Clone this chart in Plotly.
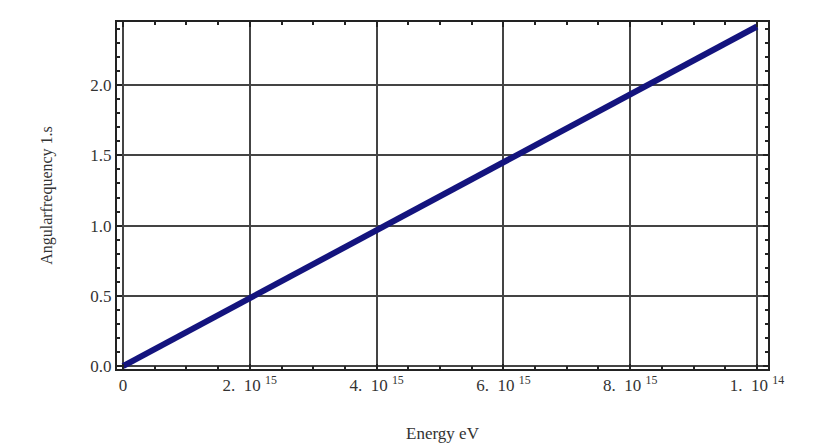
import plotly.graph_objects as go

energy_ev = [0, 2e-15, 4e-15, 6e-15, 8e-15, 1e-14]
angular_freq = [0.0, 0.484, 0.967, 1.451, 1.934, 2.418]

x_tickvals = [0, 2e-15, 4e-15, 6e-15, 8e-15, 1e-14]
x_ticktext = ["0", "2.  10 <sup>15</sup>", "4.  10 <sup>15</sup>", "6.  10 <sup>15</sup>",
              "8.  10 <sup>15</sup>", "1.  10 <sup>14</sup>"]
y_tickvals = [0.0, 0.5, 1.0, 1.5, 2.0]
y_ticktext = ["0.0", "0.5", "1.0", "1.5", "2.0"]

font_family = "Liberation Serif, Times New Roman, serif"
text_color = "#333333"

fig = go.Figure()
fig.add_trace(go.Scatter(
    x=energy_ev, y=angular_freq, mode="lines",
    line=dict(color="#14147e", width=6),
    hoverinfo="skip", showlegend=False,
))

fig.update_layout(
    width=809, height=438,
    margin=dict(l=109, r=49, t=14, b=77),
    paper_bgcolor="white", plot_bgcolor="white",
    font=dict(family=font_family, size=16, color=text_color),
    showlegend=False,
)

fig.update_xaxes(
    range=[-0.095e-15, 1.0174e-14],
    automargin=False,
    tickvals=x_tickvals, ticktext=x_ticktext,
    ticks="inside", ticklen=5, tickwidth=1.5, tickcolor="#222",
    showgrid=True, gridcolor="#444", gridwidth=1.5,
    zeroline=False,
    showline=True, linecolor="#222", linewidth=2, mirror="allticks",
    minor=dict(ticks="inside", dtick=5e-16, tick0=0, ticklen=3, tickwidth=1.5, tickcolor="#222", showgrid=False),
    tickfont=dict(size=17, color=text_color),
    title=dict(text="Energy eV", font=dict(size=17, color=text_color), standoff=33),
)
fig.update_yaxes(
    range=[-0.021, 2.45],
    automargin=False,
    tickvals=y_tickvals, ticktext=y_ticktext,
    ticks="inside", ticklen=5, tickwidth=1.5, tickcolor="#222",
    showgrid=True, gridcolor="#444", gridwidth=1.5,
    zeroline=False,
    showline=True, linecolor="#222", linewidth=2, mirror="allticks",
    minor=dict(ticks="inside", dtick=0.1, tick0=0, ticklen=3, tickwidth=1.5, tickcolor="#222", showgrid=False),
    tickfont=dict(size=17, color=text_color),
    title=dict(text="Angularfrequency 1.s", font=dict(size=16, color=text_color), standoff=34),
)

fig.write_html("out.html")
